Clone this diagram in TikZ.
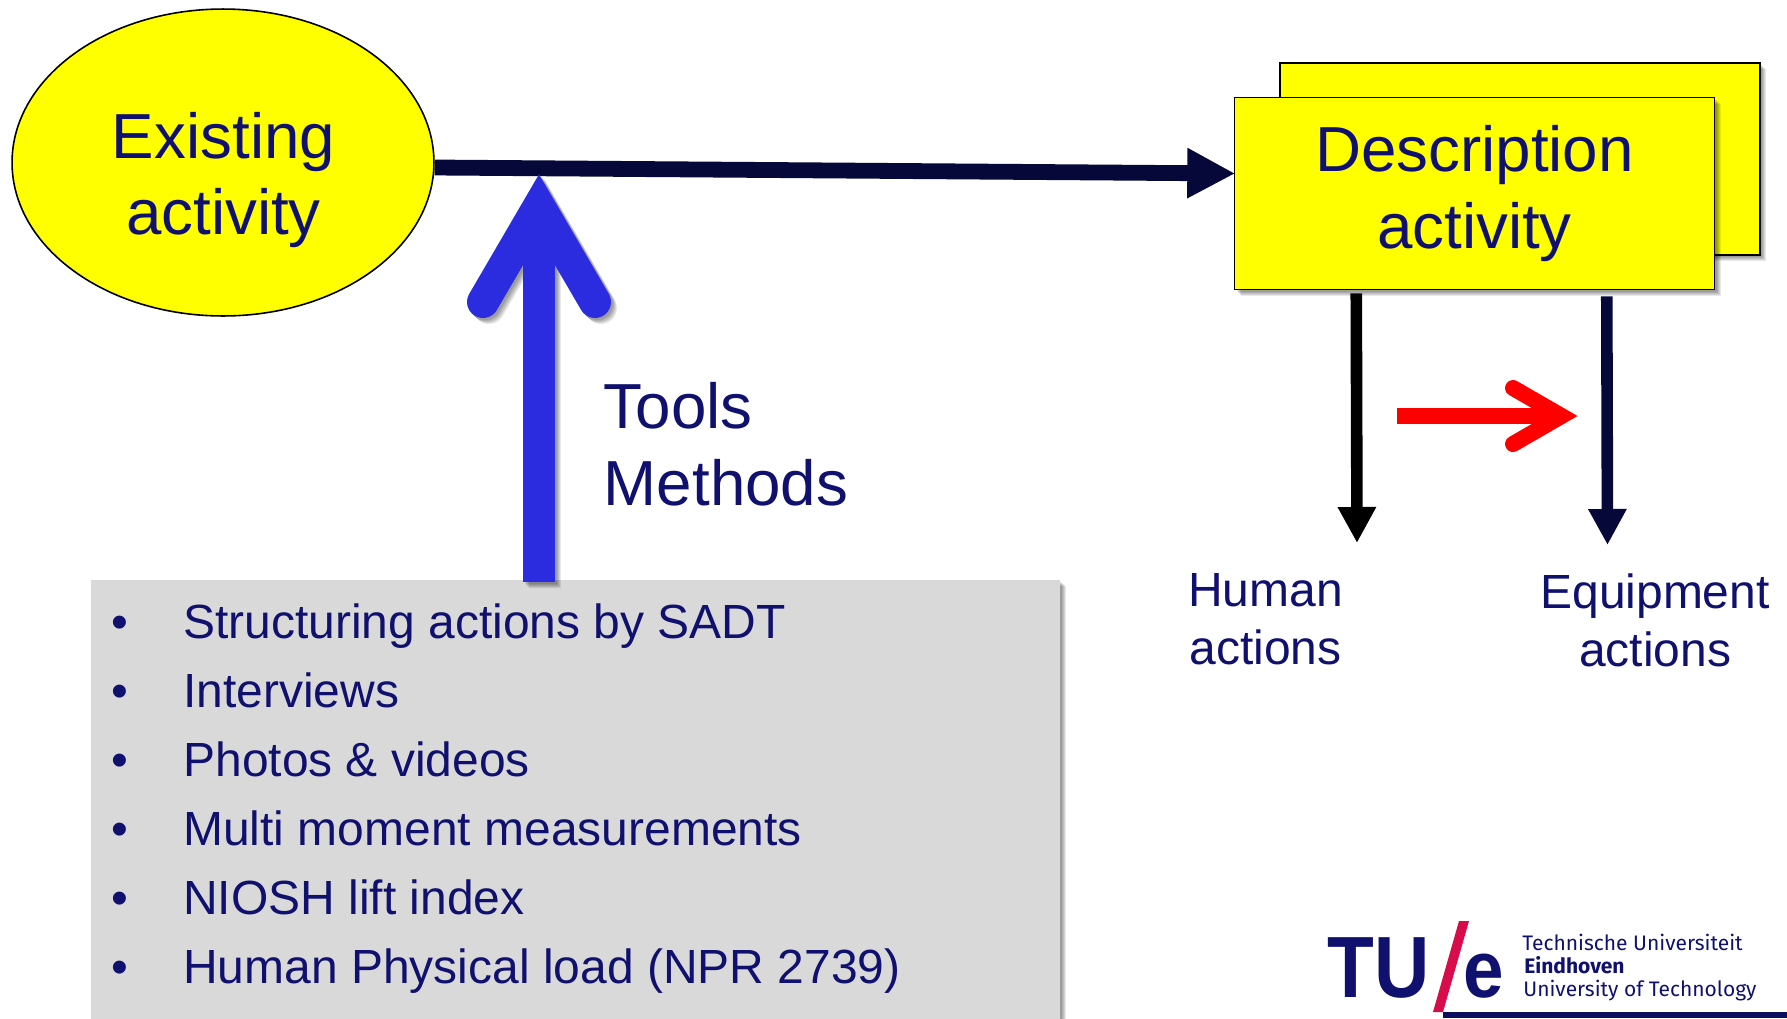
\documentclass[tikz,border=0pt]{standalone}
\usepackage{fontspec}
\setmainfont{Liberation Sans}
\newfontfamily\logofont{Fira Sans}
\usetikzlibrary{arrows.meta,calc,shapes.geometric}
\definecolor{txtnavy}{HTML}{10106F}
\definecolor{linenavy}{HTML}{06083A}
\definecolor{bluearrow}{HTML}{2B2BE0}
\definecolor{boxgray}{HTML}{D9D9D9}
\definecolor{logored}{HTML}{D80C4B}
\definecolor{yel}{rgb}{1,1,0}
\definecolor{pured}{rgb}{1,0,0}
\tikzset{
  big/.style={font=\fontsize{36.25}{43.6}\selectfont,text=txtnavy,align=center,inner sep=0pt},
  mid/.style={font=\fontsize{27.3}{33}\selectfont,text=txtnavy,align=center,inner sep=0pt},
  listitem/.style={font=\fontsize{27.3}{33}\selectfont,text=txtnavy,anchor=base west,inner sep=0pt},
  yellowbox/.style={draw=black,fill=yel,line width=0.9pt,minimum width=9.6cm,minimum height=3.84cm,inner sep=0pt},
  logotext/.style={font=\logofont\fontsize{11.95}{15}\selectfont,text=txtnavy,anchor=base west,inner sep=0pt},
  mainline/.style={draw=linenavy,line width=9pt,-{Triangle[length=27.3pt,width=26.7pt]}},
  downline/.style={line width=6.6pt,-{Triangle[length=20.5pt,width=20.5pt]}},
  chevron/.style={line cap=round,line join=miter,miter limit=10},
}
\begin{document}
\begin{tikzpicture}[x=0.02cm,y=-0.02cm]
\clip (0,0) rectangle (1787,1018);
\fill[white] (0,0) rectangle (1787,1018);

% grey list box with its shadow
\foreach \d in {2,3,4,5,6}
  \fill[black,opacity=0.09] (91+\d,580+\d) rectangle (1060+\d,1040);
\node[fill=boxgray,minimum width=19.38cm,minimum height=9cm,inner sep=0pt] (listbox) at (575.5,805) {};

\foreach \n/\yy/\t in {a/638/Structuring actions by SADT,b/707/Interviews,c/776/Photos \& videos,d/845/Multi moment measurements,e/914/NIOSH lift index,f/983/Human Physical load (NPR 2739)}{
  \node[listitem] (bul\n) at (111,\yy) {•};
  \node[listitem] (item\n) at (183,\yy) {\t};
}

% ellipse
\node[ellipse,draw=black,fill=yel,line width=0.9pt,minimum width=8.44cm,minimum height=6.14cm,inner sep=0pt] (exist) at (223,162.5) {};
\node[big] (existtext) at (223.5,180) {Existing\\activity};

% yellow boxes with shadows
\foreach \d in {2,3,4,5,6}
  \fill[black,opacity=0.09] (1280+\d,63+\d) rectangle (1760+\d,255+\d);
\node[yellowbox] (descback) at (1520,159) {};
\foreach \d in {2,3,4,5,6}
  \fill[black,opacity=0.09] (1234.5+\d,98+\d) rectangle (1714.5+\d,290+\d);
\node[yellowbox,big] (desc) at (1474.5,193.5) {Description\\activity};

% blue arrow shadow
\foreach \d in {2,3,4,5,6}{
  \begin{scope}[transparency group,opacity=0.09,shift={(\d,\d)}]
    \draw[black,chevron,line width=18.2pt] (483,302) -- (539,206) -- (595,302);
    \draw[black,line width=18.2pt] (539,230) -- (539,582);
  \end{scope}
}
% main arrow
\draw[mainline] ($(exist.east)+(0,5)$) -- ($(desc.west)+(1.5,-20)$);
% blue arrow
\coordinate (bluefoot) at (539,582);
\coordinate (bluetop) at (539,206);
\draw[bluearrow,chevron,line width=18.2pt] (483,302) -- (bluetop) -- (595,302);
\draw[bluearrow,line width=18.2pt] (bluefoot) -- (539,230);

\node[big,anchor=base west,align=left] (tools) at (603.5,505) {Tools\\Methods};

% down arrows
\coordinate (tiphuman) at (1357,543);
\coordinate (tipequip) at (1607.5,545);
\draw[downline,draw=black] ($(desc.south west)+(122.5,3)$) -- (tiphuman);
\draw[downline,draw=linenavy] ($(desc.south west)+(373,6)$) -- (tipequip);

% red arrow
\coordinate (redstart) at (1397,416);
\coordinate (redtip) at (1561.5,416);
\draw[pured,line width=9.1pt] (redstart) -- (1553,416);
\draw[pured,chevron,line width=9.1pt] (1513,388) -- (redtip) -- (1513,444);

\node[mid] (human) at (1265.5,619.5) {Human\\actions};
\node[mid] (equip) at (1655,620.5) {Equipment\\actions};

% logo
\fill[linenavy!30!txtnavy] (1443,1012) rectangle (1787,1018);
\node[font=\bfseries\fontsize{49.5}{50}\selectfont,text=txtnavy,anchor=base west,inner sep=0pt,xscale=0.88] (tu) at (1327,997) {TU};
\fill[logored] (1459,921) -- (1469,921) -- (1443,1012) -- (1433,1012) -- cycle;
\node[font=\bfseries\fontsize{46}{50}\selectfont,text=txtnavy,anchor=base west,inner sep=0pt,xscale=0.9] (elogo) at (1463,997) {e};
\node[logotext] (lg1) at (1522,950) {Technische Universiteit};
\node[logotext] (lg2) at (1524,973) {\bfseries Eindhoven};
\node[logotext] (lg3) at (1523,996) {University of Technology};
\end{tikzpicture}
\end{document}
